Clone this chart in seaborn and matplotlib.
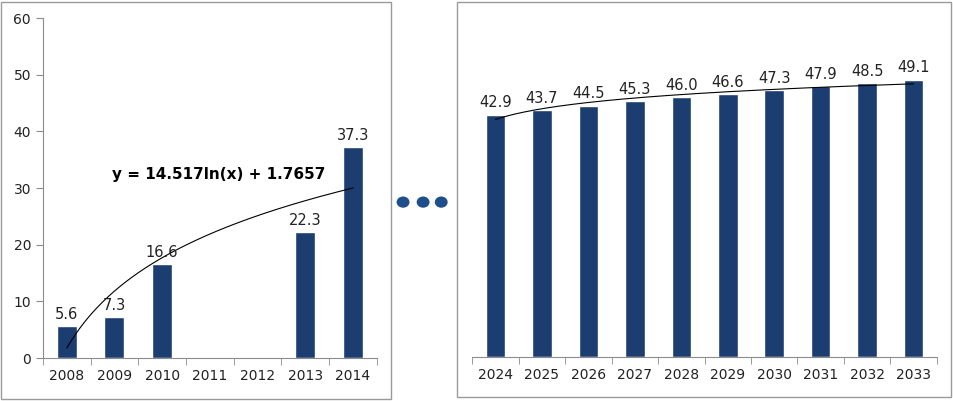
import numpy as np
import pandas as pd
import matplotlib
matplotlib.use('Agg')
import matplotlib.pyplot as plt
from matplotlib.patches import Rectangle, Ellipse
import seaborn as sns

# past values (2011 and 2012 have no data)
years_past = ['2008', '2009', '2010', '2011', '2012', '2013', '2014']
values_past = [5.6, 7.3, 16.6, np.nan, np.nan, 22.3, 37.3]

# projected values
years_future = ['2024', '2025', '2026', '2027', '2028', '2029', '2030', '2031', '2032', '2033']
values_future = [42.9, 43.7, 44.5, 45.3, 46.0, 46.6, 47.3, 47.9, 48.5, 49.1]

# trend shown on the chart: y = a ln(x) + b
trend_a, trend_b = 14.517, 1.7657

sns.set_style('white')
plt.rcParams['font.family'] = ['DejaVu Sans']

bar_color = '#1c3d70'
spine_color = '#8c8c8c'

fig = plt.figure(figsize=(9.54, 4.01), dpi=100)

# panel frames
fig.patches.append(Rectangle((0.001, 0.006), 0.409, 0.99, transform=fig.transFigure,
                             fill=False, ec='#9a9a9a', lw=1))
fig.patches.append(Rectangle((0.479, 0.010), 0.518, 0.985, transform=fig.transFigure,
                             fill=False, ec='#9a9a9a', lw=1))

ax1 = fig.add_axes([0.045, 0.107, 0.350, 0.848])
ax2 = fig.add_axes([0.495, 0.110, 0.487, 0.845])

df_past = pd.DataFrame({'year': years_past, 'value': values_past})
df_future = pd.DataFrame({'year': years_future, 'value': values_future})

sns.barplot(data=df_past, x='year', y='value', order=years_past, color=bar_color,
            width=0.42, saturation=1, ax=ax1)
sns.barplot(data=df_future, x='year', y='value', order=years_future, color=bar_color,
            width=0.42, saturation=1, ax=ax2)

for ax in (ax1, ax2):
    for c in ax.containers:
        ax.bar_label(c, fmt='%.1f', padding=3, fontsize=10.5, color='#222222')
    ax.set_ylim(0, 60)
    ax.set_xlabel('')
    ax.set_ylabel('')
    n = len(ax.get_xticks())
    ax.set_xlim(-0.5, n - 0.5)
    ax.set_xticks(np.arange(-0.5, n, 1.0), minor=True)
    ax.tick_params(axis='x', which='major', length=0, labelsize=10, pad=8, colors='#222222')
    ax.tick_params(axis='x', which='minor', length=5, direction='out', color=spine_color, bottom=True)
    ax.spines['top'].set_visible(False)
    ax.spines['right'].set_visible(False)
    ax.spines['bottom'].set_color(spine_color)
    ax.spines['left'].set_color(spine_color)

ax1.set_yticks(range(0, 61, 10))
ax1.tick_params(axis='y', length=5, direction='out', color=spine_color, left=True,
                labelsize=10)
for t in ax1.get_yticklabels():
    t.set_color('#222222')

ax2.spines['left'].set_visible(False)
ax2.set_yticks([])

# trend lines
xs = np.linspace(1, len(years_past), 200)
ax1.plot(xs - 1, trend_a * np.log(xs) + trend_b, color='black', lw=0.8)
ax1.text(0.95, 32.4, 'y = 14.517ln(x) + 1.7657', fontsize=11, fontweight='bold',
         color='black', ha='left', va='center')

xf = np.arange(1, len(years_future) + 1)
fa, fb = np.polyfit(np.log(xf), values_future, 1)
xs2 = np.linspace(1, len(years_future), 200)
ax2.plot(xs2 - 1, fa * np.log(xs2) + fb, color='black', lw=0.8)

# continuation dots between the panels
for cx in (0.4225, 0.4435, 0.4625):
    fig.patches.append(Ellipse((cx, 0.496), 0.0135, 0.028, transform=fig.transFigure,
                               fc='#1f4f8a', ec='none'))

fig.savefig('out.png', dpi=100)
